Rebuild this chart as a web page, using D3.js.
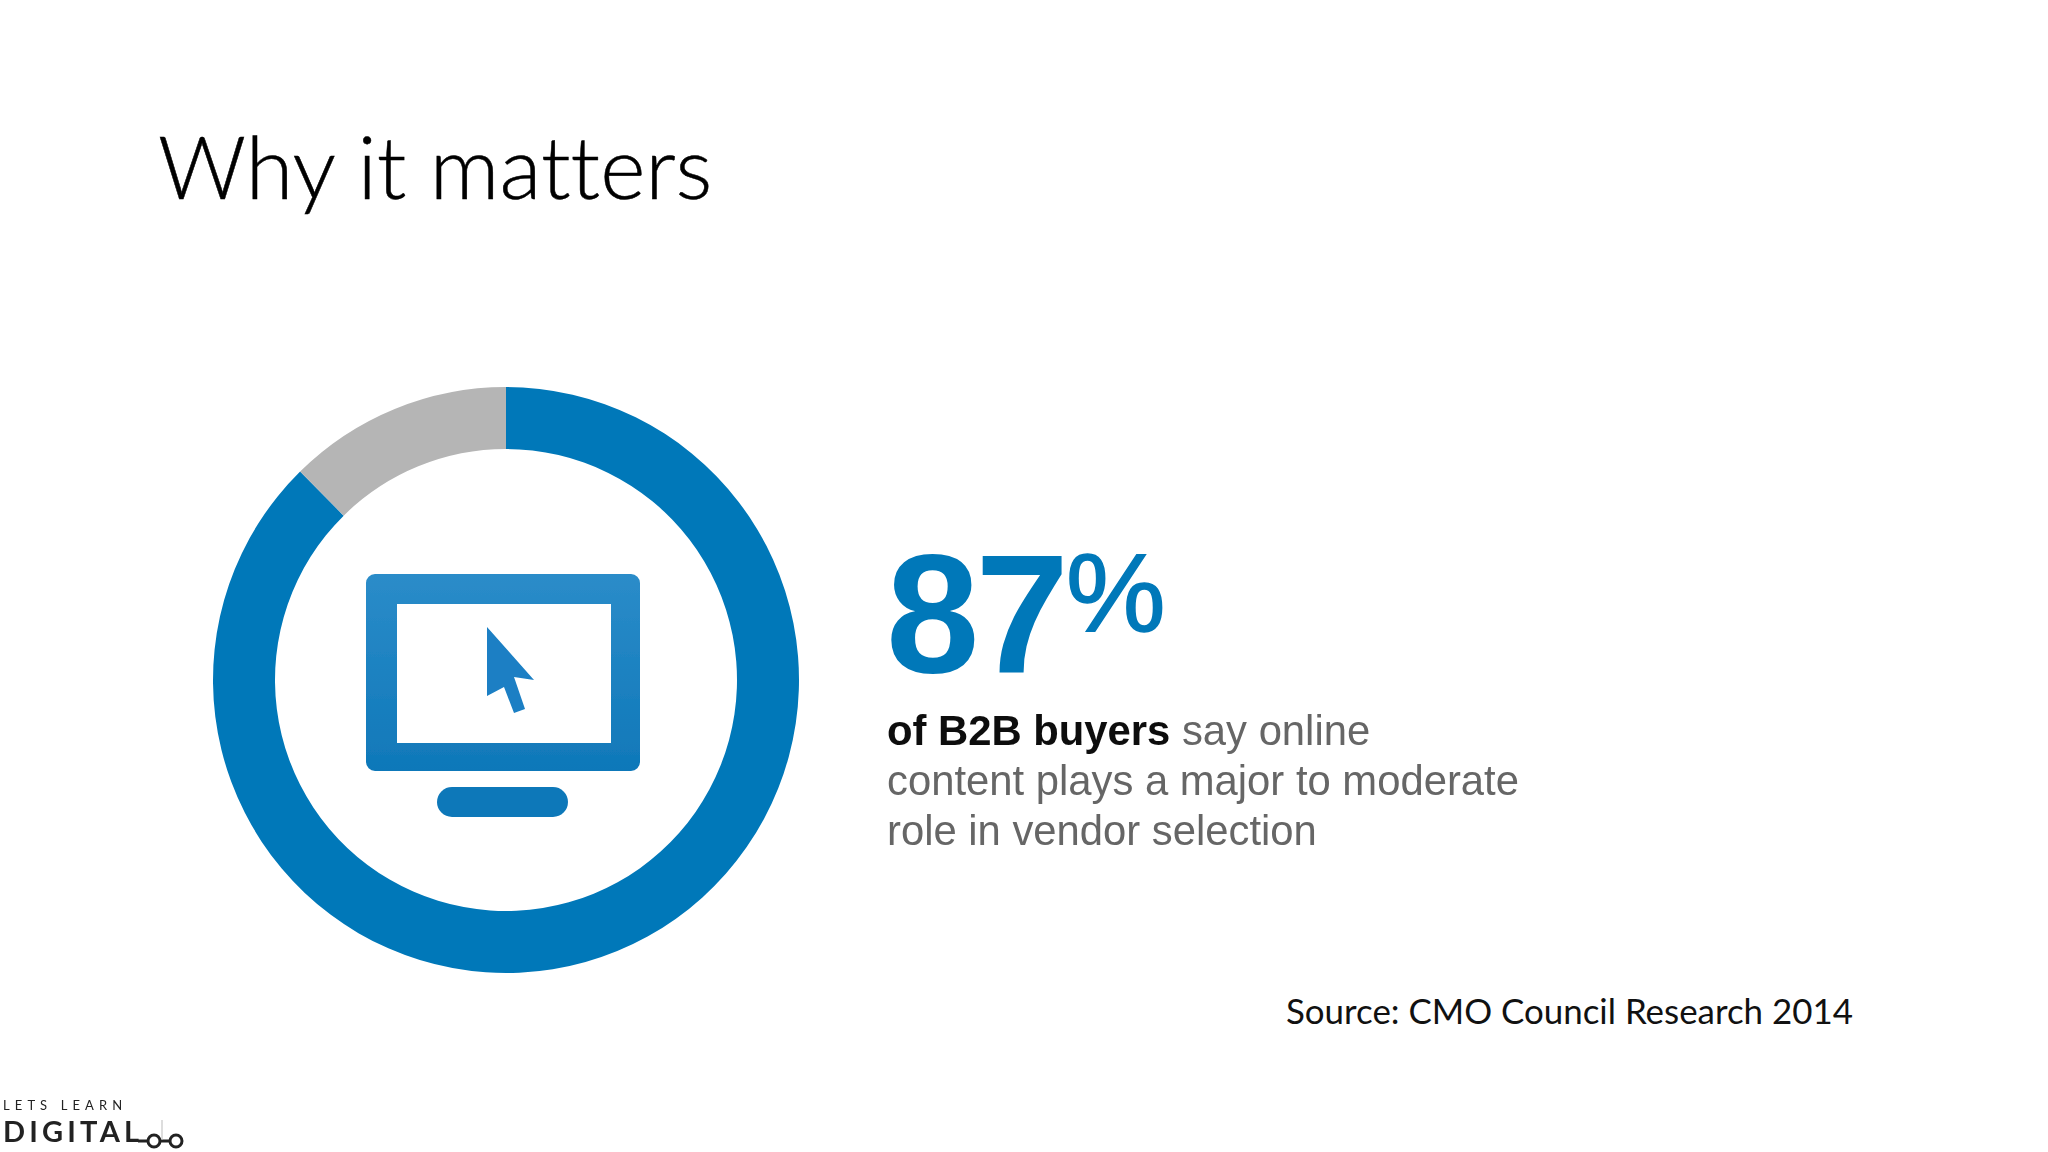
<!DOCTYPE html>
<html>
<head>
<meta charset="utf-8">
<title>Why it matters</title>
<script src="https://cdn.jsdelivr.net/npm/d3@7"></script>
<style>
html, body { margin: 0; padding: 0; background: #fff; overflow: hidden; }
svg { display: block; }
text { font-variant-ligatures: none; }
</style>
</head>
<body>
<div id="chart"></div>
<script>
var segments = ["agree", "other"];
var shares = [87.6, 12.4];
var segmentColors = ["#0678b9", "#b5b5b5"];
var titleText = "Why it matters";
var bigNumber = "87";
var bigSign = "%";
var boldLead = "of B2B buyers";
var bodyLines = [" say online", "content plays a major to moderate", "role in vendor selection"];
var sourceText = "Source: CMO Council Research 2014";
var logoTop = "LETS LEARN";
var logoBottom = "DIGITAL";
var logoDots = [154, 176];

var svg = d3.select("#chart").append("svg")
	.attr("width", 2048)
	.attr("height", 1152);

var defs = svg.append("defs");
var grad = defs.append("linearGradient")
	.attr("id", "screen-grad")
	.attr("x1", 0).attr("y1", 0).attr("x2", 0).attr("y2", 1);
grad.append("stop").attr("offset", "0%").attr("stop-color", "#2b8cc9");
grad.append("stop").attr("offset", "100%").attr("stop-color", "#0f78b9");

defs.append("filter").attr("id", "soft")
	.append("feGaussianBlur").attr("stdDeviation", 0.7);

// ring
var pie = d3.pie().sort(null).value(function(d){ return d; });
var arc = d3.arc().innerRadius(231).outerRadius(293);
var color = d3.scaleOrdinal().domain(segments).range(segmentColors);

var ring = svg.append("g")
	.attr("transform", "translate(506,680)")
	.attr("filter", "url(#soft)");
ring.selectAll("path")
	.data(pie(shares))
	.enter()
	.append("path")
	.attr("d", arc)
	.attr("fill", function(d, i){ return color(segments[i]); });

// monitor icon
var icon = svg.append("g").attr("filter", "url(#soft)");
icon.append("path")
	.attr("fill", "url(#screen-grad)")
	.attr("fill-rule", "evenodd")
	.attr("d", "M375 574H631a9 9 0 0 1 9 9V762a9 9 0 0 1-9 9H375a9 9 0 0 1-9-9V583a9 9 0 0 1 9-9Z"
		+ "M397 604V743H611V604Z");
icon.append("rect")
	.attr("x", 437).attr("y", 787)
	.attr("width", 131).attr("height", 30)
	.attr("rx", 15)
	.attr("fill", "#0f78b9");
icon.append("path")
	.attr("fill", "#1a7fc4")
	.attr("d", "M487 627L534 680L514 677L525 709L514 713L504 687L487 696Z");

// text
var text = svg.append("g");
text.append("text")
	.attr("x", 158).attr("y", 199)
	.attr("font-family", "Lato, 'Open Sans', sans-serif")
	.attr("font-weight", 300)
	.attr("font-size", 86.6)
	.attr("fill", "#000")
	.attr("stroke", "#000")
	.attr("stroke-width", 0.5)
	.text(titleText);

var call = text.append("g").attr("filter", "url(#soft)");
call.append("text")
	.attr("x", 886).attr("y", 672)
	.attr("font-family", "'Liberation Sans', Arial, sans-serif")
	.attr("font-weight", 700)
	.attr("font-size", 168)
	.attr("letter-spacing", -4)
	.attr("fill", "#0678b9")
	.text(bigNumber);
call.append("text")
	.attr("x", 1066).attr("y", 631)
	.attr("font-family", "'Liberation Sans', Arial, sans-serif")
	.attr("font-size", 112)
	.attr("fill", "#0678b9")
	.attr("stroke", "#0678b9")
	.attr("stroke-width", 1.5)
	.text(bigSign);

var body = call.append("g")
	.attr("font-family", "'Liberation Sans', Arial, sans-serif")
	.attr("font-size", 41.8)
	.attr("fill", "#666");
var first = body.append("text").attr("x", 887).attr("y", 745);
first.append("tspan").attr("font-weight", 700).attr("fill", "#111").text(boldLead);
first.append("tspan").attr("xml:space", "preserve").text(bodyLines[0]);
body.selectAll("text.rest")
	.data(bodyLines.slice(1))
	.enter()
	.append("text")
	.attr("class", "rest")
	.attr("x", 887)
	.attr("y", function(d, i){ return 795 + i * 49.7; })
	.text(function(d){ return d; });

text.append("text")
	.attr("x", 1286).attr("y", 1024)
	.attr("font-family", "Lato, 'Open Sans', sans-serif")
	.attr("font-size", 34.9)
	.attr("fill", "#111")
	.text(sourceText);

// logo
var logo = svg.append("g")
	.attr("fill", "#222")
	.attr("filter", "url(#soft)")
	.attr("font-family", "Lato, sans-serif");
logo.append("text")
	.attr("x", 3).attr("y", 1110)
	.attr("font-size", 13)
	.attr("letter-spacing", 5.1)
	.text(logoTop);
logo.append("text")
	.attr("x", 3).attr("y", 1142)
	.attr("font-size", 29)
	.attr("font-weight", 700)
	.attr("letter-spacing", 4.2)
	.text(logoBottom);
logo.append("path")
	.attr("d", "M138 1141H182")
	.attr("stroke", "#222").attr("stroke-width", 3);
logo.append("path")
	.attr("d", "M162 1120V1140")
	.attr("stroke", "#bbb").attr("stroke-width", 1);
logo.selectAll("circle")
	.data(logoDots)
	.enter()
	.append("circle")
	.attr("cx", function(d){ return d; })
	.attr("cy", 1141)
	.attr("r", 6)
	.attr("fill", "#fff")
	.attr("stroke", "#222")
	.attr("stroke-width", 3);
</script>
</body>
</html>
